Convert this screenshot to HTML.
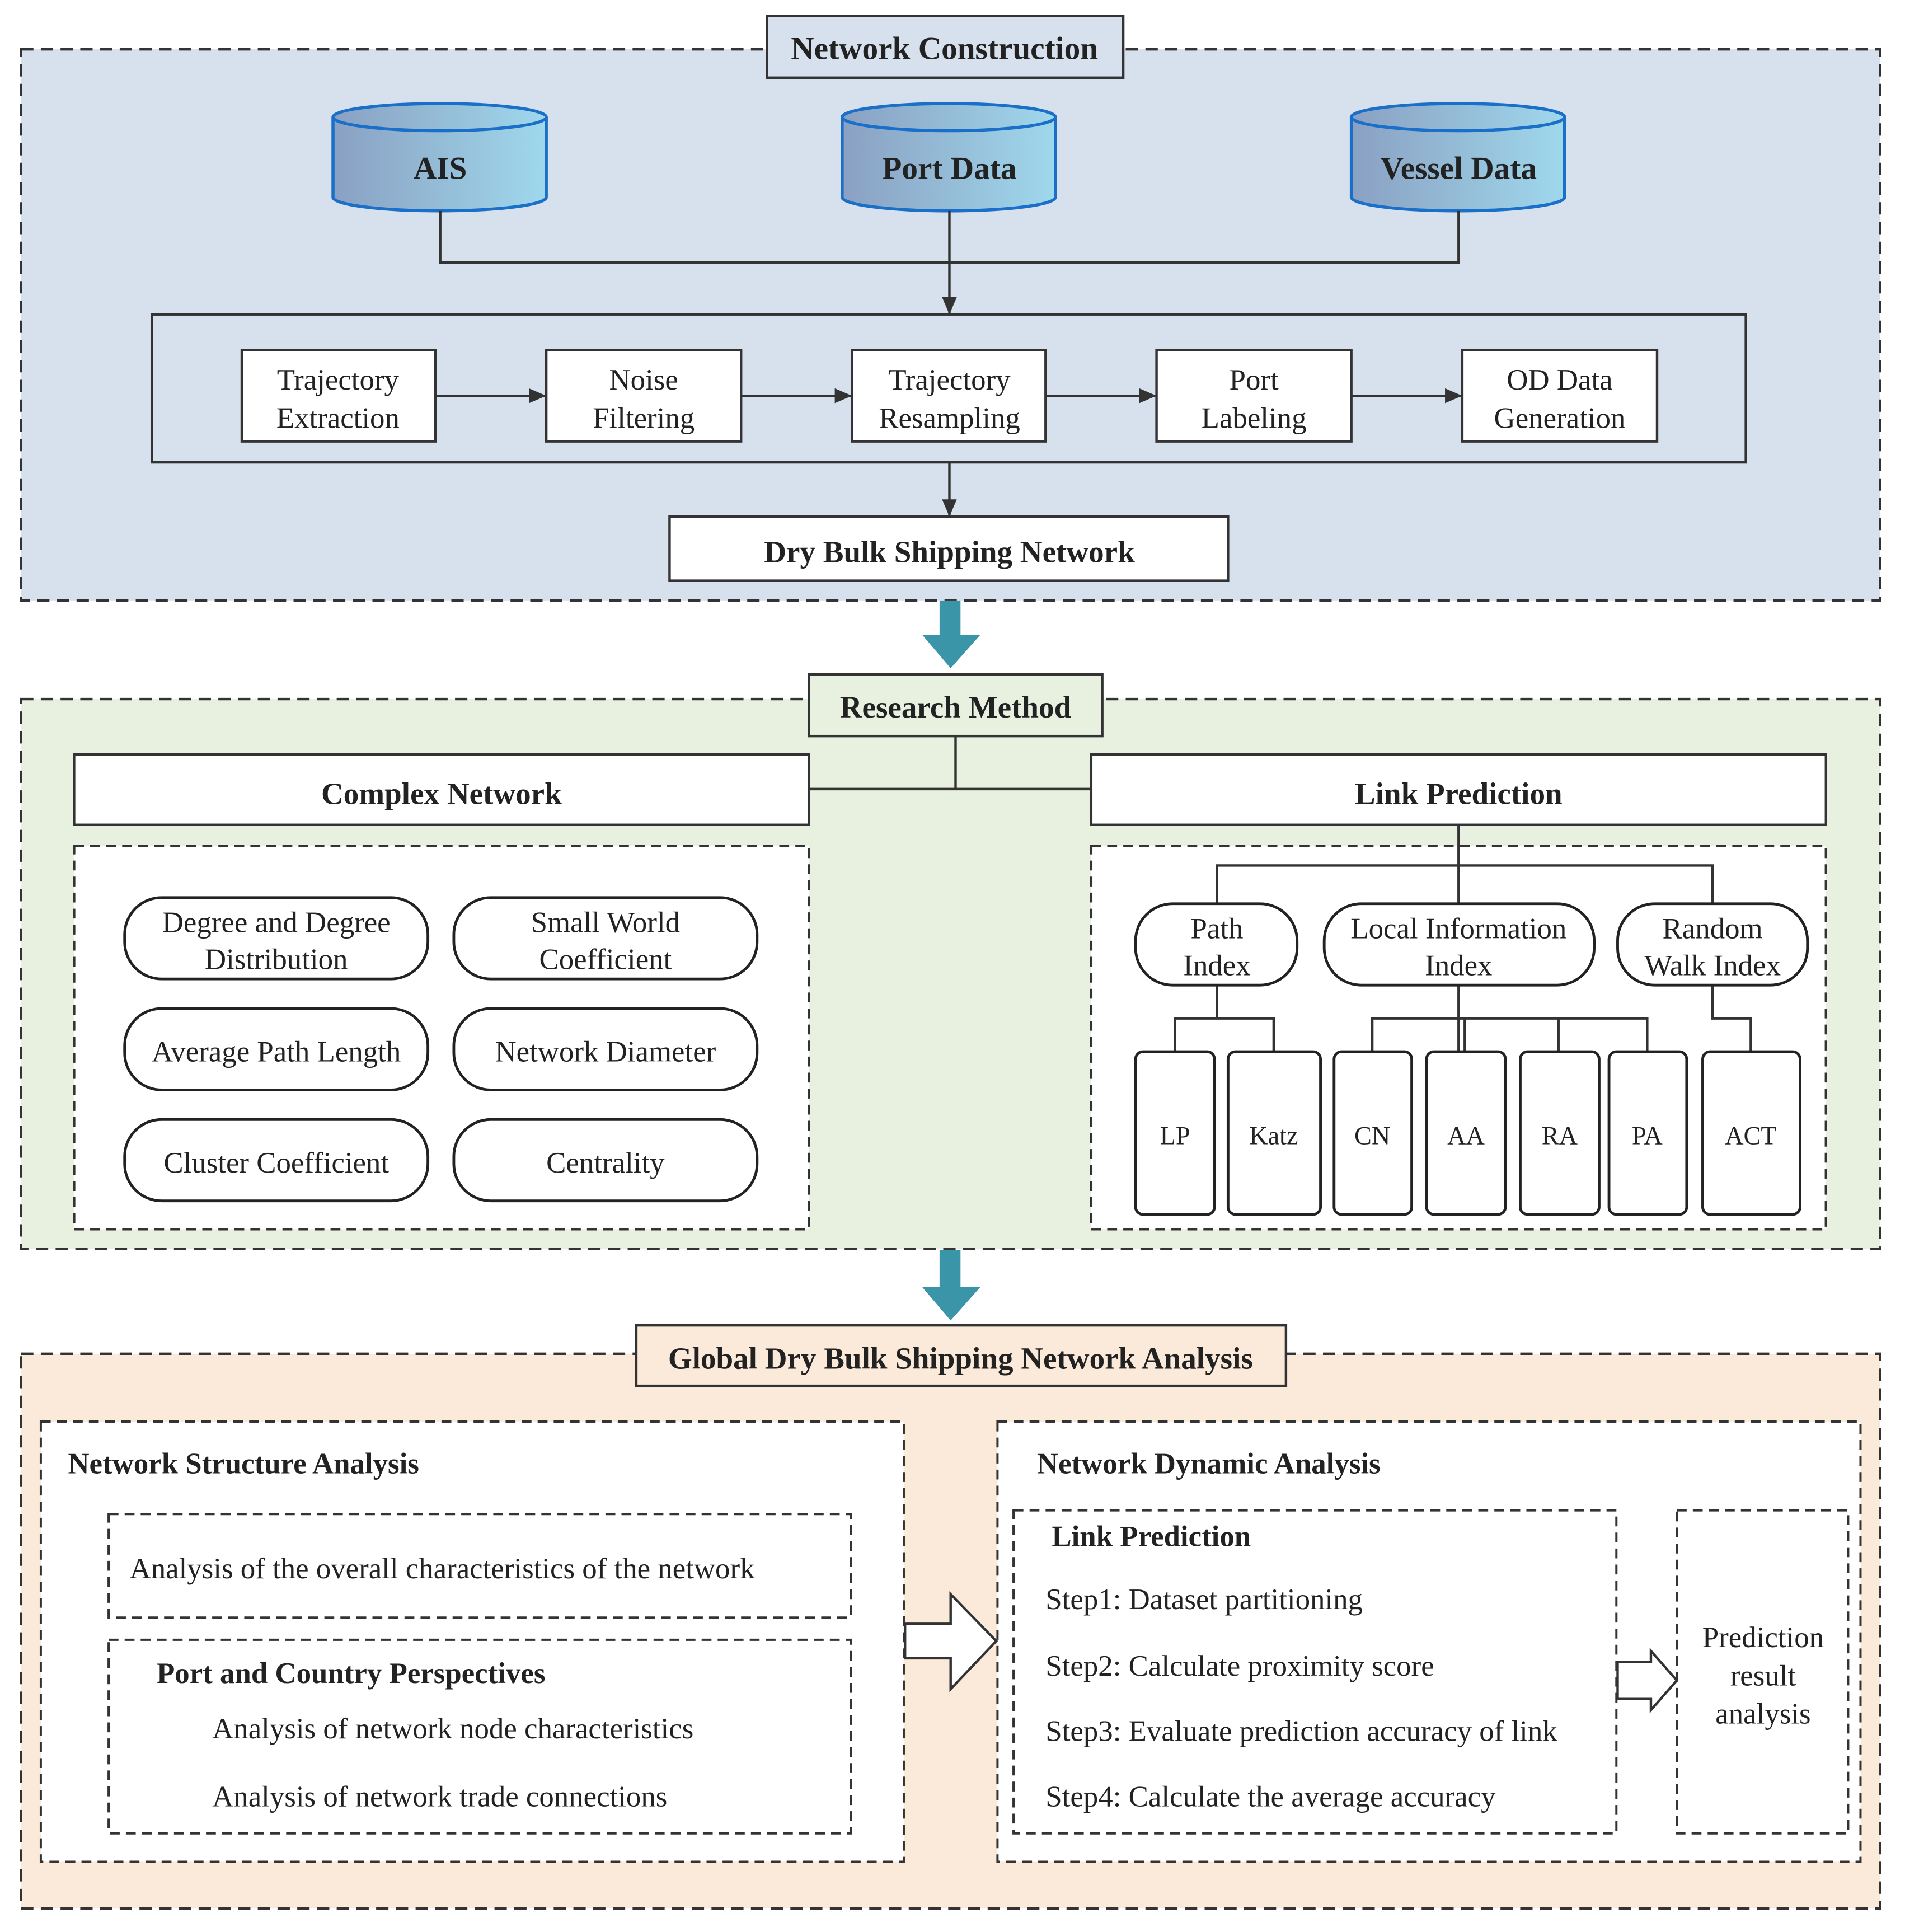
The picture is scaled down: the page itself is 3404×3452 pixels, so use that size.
<!DOCTYPE html>
<html><head><meta charset="utf-8"><style>
html,body{margin:0;padding:0;background:#fff;}
svg{display:block;}
text{font-family:"Liberation Serif",serif;fill:#222;}
.b{font-weight:bold;}
</style></head><body>
<svg width="3404" height="3452" viewBox="0 0 1545 1567" xmlns="http://www.w3.org/2000/svg">
<defs>
<linearGradient id="cy" x1="0" x2="1" y1="0" y2="0"><stop offset="0" stop-color="#8aa0c2"/><stop offset="1" stop-color="#9fd8ec"/></linearGradient>
<marker id="ah" markerWidth="14" markerHeight="14" refX="13" refY="7" orient="auto" markerUnits="userSpaceOnUse"><path d="M0,1 L14,7 L0,13 z" fill="#333"/></marker>
</defs>
<rect width="1545" height="1567" fill="#fff"/>
<!-- Panel 1 -->
<rect x="17" y="40" width="1508" height="447" fill="#d7e1ee" stroke="#333" stroke-width="2" stroke-dasharray="10,6"/>
<rect x="622" y="13" width="289" height="50" fill="#d7e1ee" stroke="#333" stroke-width="2"/>
<text x="766" y="48" text-anchor="middle" font-size="26" class="b">Network Construction</text>
<g stroke="#1a6fc8" stroke-width="2.5" fill="url(#cy)">
<path d="M270,95 L270,160 A86.5,11 0 0 0 443,160 L443,95"/><ellipse cx="356.5" cy="95" rx="86.5" ry="11"/>
<path d="M683,95 L683,160 A86.5,11 0 0 0 856,160 L856,95"/><ellipse cx="769.5" cy="95" rx="86.5" ry="11"/>
<path d="M1096,95 L1096,160 A86.5,11 0 0 0 1269,160 L1269,95"/><ellipse cx="1182.5" cy="95" rx="86.5" ry="11"/>
</g>
<text x="357" y="145" text-anchor="middle" font-size="26" class="b">AIS</text>
<text x="770" y="145" text-anchor="middle" font-size="26" class="b">Port Data</text>
<text x="1183" y="145" text-anchor="middle" font-size="26" class="b">Vessel Data</text>
<g stroke="#333" stroke-width="2" fill="none">
<path d="M357,171 V213 H1183 V171"/>
<path d="M770,171 V254" marker-end="url(#ah)"/>
<rect x="123" y="255" width="1293" height="120"/>
<path d="M353,321 H442" marker-end="url(#ah)"/>
<path d="M601,321 H690" marker-end="url(#ah)"/>
<path d="M848,321 H937" marker-end="url(#ah)"/>
<path d="M1096,321 H1185" marker-end="url(#ah)"/>
<path d="M770,375 V418" marker-end="url(#ah)"/>
</g>
<g stroke="#333" stroke-width="2" fill="#fff">
<rect x="196" y="284" width="157" height="74"/><rect x="443" y="284" width="158" height="74"/>
<rect x="691" y="284" width="157" height="74"/><rect x="938" y="284" width="158" height="74"/>
<rect x="1186" y="284" width="158" height="74"/>
<rect x="543" y="419" width="453" height="52"/>
</g>
<g font-size="24" text-anchor="middle">
<text x="274" y="316">Trajectory</text><text x="274" y="347">Extraction</text>
<text x="522" y="316">Noise</text><text x="522" y="347">Filtering</text>
<text x="770" y="316">Trajectory</text><text x="770" y="347">Resampling</text>
<text x="1017" y="316">Port</text><text x="1017" y="347">Labeling</text>
<text x="1265" y="316">OD Data</text><text x="1265" y="347">Generation</text>
</g>
<text x="770" y="456" text-anchor="middle" font-size="25" class="b">Dry Bulk Shipping Network</text>
<path d="M762,487 H779 V515 H795 L771,542 L748,515 H762 Z" fill="#3a95a8"/>
<!-- Panel 2 -->
<rect x="17" y="567" width="1508" height="446" fill="#e8f0df" stroke="#333" stroke-width="2" stroke-dasharray="10,6"/>
<rect x="656" y="547" width="238" height="50" fill="#e8f0df" stroke="#333" stroke-width="2"/>
<text x="775" y="582" text-anchor="middle" font-size="25" class="b">Research Method</text>
<g stroke="#333" stroke-width="2" fill="none"><path d="M775,597 V640 M656,640 H885"/></g>
<rect x="60" y="612" width="596" height="57" fill="#fff" stroke="#333" stroke-width="2"/>
<rect x="885" y="612" width="596" height="57" fill="#fff" stroke="#333" stroke-width="2"/>
<text x="358" y="652" text-anchor="middle" font-size="25" class="b">Complex Network</text>
<text x="1183" y="652" text-anchor="middle" font-size="25" class="b">Link Prediction</text>
<rect x="60" y="686" width="596" height="311" fill="#fff" stroke="#333" stroke-width="2" stroke-dasharray="8,5"/>
<rect x="885" y="686" width="596" height="311" fill="#fff" stroke="#333" stroke-width="2" stroke-dasharray="8,5"/>
<g stroke="#222" stroke-width="2.2" fill="#fff">
<rect x="101" y="728" width="246" height="66" rx="30"/><rect x="368" y="728" width="246" height="66" rx="30"/>
<rect x="101" y="818" width="246" height="66" rx="30"/><rect x="368" y="818" width="246" height="66" rx="30"/>
<rect x="101" y="908" width="246" height="66" rx="30"/><rect x="368" y="908" width="246" height="66" rx="30"/>
</g>
<g font-size="24" text-anchor="middle">
<text x="224" y="756">Degree and Degree</text><text x="224" y="786">Distribution</text>
<text x="491" y="756">Small World</text><text x="491" y="786">Coefficient</text>
<text x="224" y="861">Average Path Length</text><text x="491" y="861">Network Diameter</text>
<text x="224" y="951">Cluster Coefficient</text><text x="491" y="951">Centrality</text>
</g>
<g stroke="#333" stroke-width="2" fill="none">
<path d="M1183,669 V733 M987,733 V702 H1389 V733"/>
<path d="M987,799 V826 M953,853 V826 H1033 V853"/>
<path d="M1183,799 V853 M1113,853 V826 H1336 V853 M1188,826 V853 M1264,826 V853"/>
<path d="M1389,799 V826 H1420 V853"/>
</g>
<g stroke="#222" stroke-width="2.2" fill="#fff">
<rect x="921" y="733" width="131" height="66" rx="30"/><rect x="1074" y="733" width="219" height="66" rx="30"/>
<rect x="1312" y="733" width="154" height="66" rx="30"/>
<rect x="921" y="853" width="64" height="132" rx="6"/><rect x="996" y="853" width="75" height="132" rx="6"/>
<rect x="1082" y="853" width="63" height="132" rx="6"/><rect x="1157" y="853" width="64" height="132" rx="6"/>
<rect x="1233" y="853" width="64" height="132" rx="6"/><rect x="1305" y="853" width="63" height="132" rx="6"/>
<rect x="1381" y="853" width="79" height="132" rx="6"/>
</g>
<g font-size="24" text-anchor="middle">
<text x="987" y="761">Path</text><text x="987" y="791">Index</text>
<text x="1183" y="761">Local Information</text><text x="1183" y="791">Index</text>
<text x="1389" y="761">Random</text><text x="1389" y="791">Walk Index</text>
</g>
<g font-size="21" text-anchor="middle">
<text x="953" y="928">LP</text><text x="1033" y="928">Katz</text><text x="1113" y="928">CN</text>
<text x="1189" y="928">AA</text><text x="1265" y="928">RA</text><text x="1336" y="928">PA</text><text x="1420" y="928">ACT</text>
</g>
<path d="M762,1014 H779 V1044 H795 L771,1071 L748,1044 H762 Z" fill="#3a95a8"/>
<!-- Panel 3 -->
<rect x="17" y="1098" width="1508" height="450" fill="#fbe9da" stroke="#333" stroke-width="2" stroke-dasharray="10,6"/>
<rect x="516" y="1075" width="527" height="49" fill="#fbe9da" stroke="#333" stroke-width="2"/>
<text x="779" y="1110" text-anchor="middle" font-size="25" class="b">Global Dry Bulk Shipping Network Analysis</text>
<g stroke="#333" stroke-width="1.8" fill="#fff" stroke-dasharray="8,5">
<rect x="33" y="1153" width="700" height="357"/>
<rect x="809" y="1153" width="700" height="357"/>
<rect x="88" y="1228" width="602" height="84"/>
<rect x="88" y="1330" width="602" height="157"/>
<rect x="822" y="1225" width="489" height="262"/>
<rect x="1360" y="1225" width="139" height="262"/>
</g>
<text x="55" y="1195" font-size="24" class="b">Network Structure Analysis</text>
<text x="105" y="1280" font-size="24">Analysis of the overall characteristics of the network</text>
<text x="127" y="1365" font-size="24" class="b">Port and Country Perspectives</text>
<text x="172" y="1410" font-size="24">Analysis of network node characteristics</text>
<text x="172" y="1465" font-size="24">Analysis of network trade connections</text>
<text x="841" y="1195" font-size="24" class="b">Network Dynamic Analysis</text>
<text x="853" y="1254" font-size="24" class="b">Link Prediction</text>
<g font-size="24" xml:space="preserve">
<text x="848" y="1305">Step1: Dataset partitioning</text>
<text x="848" y="1359">Step2: Calculate  proximity score</text>
<text x="848" y="1412">Step3: Evaluate  prediction accuracy of link</text>
<text x="848" y="1465">Step4: Calculate the average accuracy</text>
</g>
<g font-size="24" text-anchor="middle">
<text x="1430" y="1336">Prediction</text><text x="1430" y="1367">result</text><text x="1430" y="1398">analysis</text>
</g>
<g stroke="#333" stroke-width="2" fill="#fff">
<path d="M734,1317 H771 V1293 L808,1331 L771,1370 V1345 H734 Z"/>
<path d="M1312,1348 H1339 V1339 L1360,1363 L1339,1387 V1378 H1312 Z"/>
</g>
</svg>
</body></html>
